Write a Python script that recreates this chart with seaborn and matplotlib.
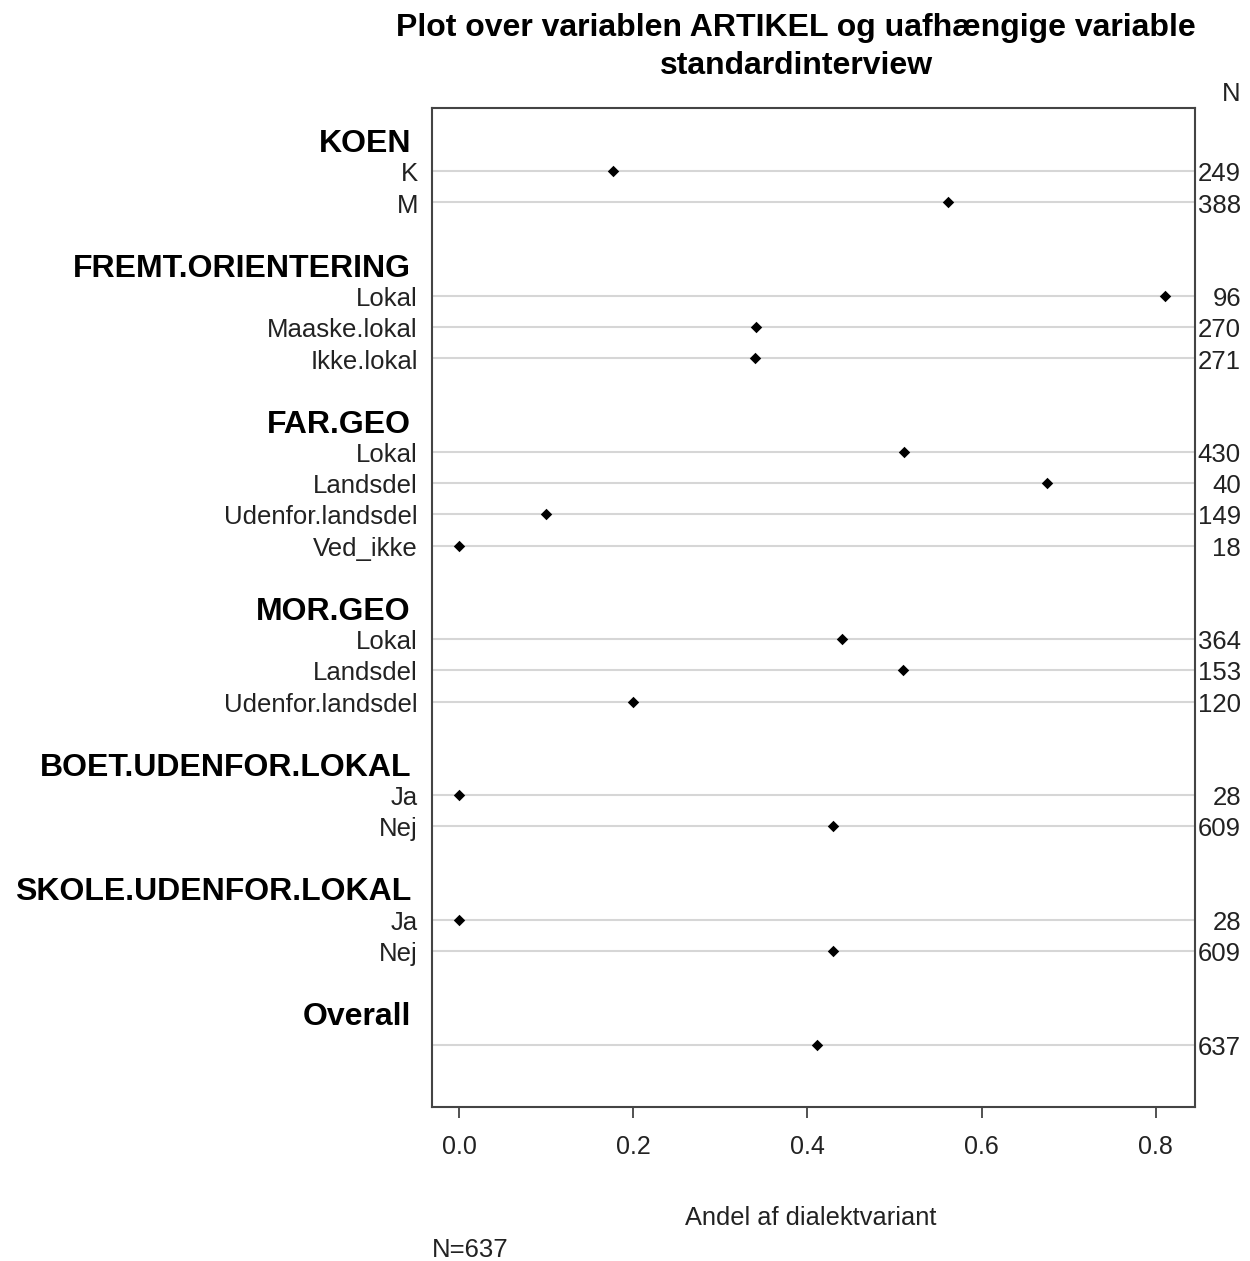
import matplotlib
matplotlib.use("Agg")
import matplotlib.pyplot as plt
import seaborn as sns
import pandas as pd
import numpy as np

sns.set_theme(style="white")
plt.rcParams['font.family'] = ['Liberation Sans', 'DejaVu Sans']

groups = ["KOEN", "FREMT.ORIENTERING", "FAR.GEO", "MOR.GEO",
          "BOET.UDENFOR.LOKAL", "SKOLE.UDENFOR.LOKAL", "Overall"]
levels = [["K", "M"],
          ["Lokal", "Maaske.lokal", "Ikke.lokal"],
          ["Lokal", "Landsdel", "Udenfor.landsdel", "Ved_ikke"],
          ["Lokal", "Landsdel", "Udenfor.landsdel"],
          ["Ja", "Nej"],
          ["Ja", "Nej"],
          [""]]
shares = [[0.177, 0.561],
          [0.810, 0.341, 0.340],
          [0.511, 0.675, 0.100, 0.0],
          [0.440, 0.510, 0.200],
          [0.0, 0.429],
          [0.0, 0.429],
          [0.411]]
counts = [[249, 388],
          [96, 270, 271],
          [430, 40, 149, 18],
          [364, 153, 120],
          [28, 609],
          [28, 609],
          [637]]

title = "Plot over variablen ARTIKEL og uafhængige variable\nstandardinterview"
xlabel = "Andel af dialektvariant"
n_note = "N=637"
xticks = [0.0, 0.2, 0.4, 0.6, 0.8]

rows = []
headers = []
pos = 0
for g, lv, sh, ct in zip(groups, levels, shares, counts):
    headers.append((g, pos))
    pos += 1
    for l, s, c in zip(lv, sh, ct):
        rows.append(dict(group=g, level=l, share=s, n=c, y=pos))
        pos += 1
    pos += 1
df = pd.DataFrame(rows)

fig = plt.figure(figsize=(12.5, 12.61), dpi=100)
ax = fig.add_axes([0.3456, 0.1221, 0.956 - 0.3456, 0.9144 - 0.1221])

for y in df["y"]:
    ax.axhline(y, color="#d6d6d6", lw=1.5, zorder=1)

sns.scatterplot(data=df, x="share", y="y", ax=ax, marker="D", s=34,
                color="black", edgecolor="black", linewidth=0, zorder=3,
                legend=False)

ax.set_xlim(-0.031, 0.845)
ax.set_ylim(31.0, -1.03)
ax.set_xticks(xticks)
ax.set_xticklabels([f"{t:.1f}" for t in xticks])
ax.tick_params(axis="x", direction="out", length=8, width=1.2, color="#333333",
               pad=12, bottom=True, labelsize=18, labelcolor="#222222")
ax.set_yticks([])
ax.set_xlabel("")
ax.set_ylabel("")
for sp in ax.spines.values():
    sp.set_color("#444444")
    sp.set_linewidth(1.5)

trans_left = matplotlib.transforms.blended_transform_factory(fig.transFigure, ax.transData)
for _, r in df.iterrows():
    ax.text(418 / 1250, r["y"] + 0.1, r["level"], transform=trans_left, ha="right",
            va="center", fontsize=18.5, color="#222222")
    ax.text(1241 / 1250, r["y"] + 0.1, str(r["n"]), transform=trans_left, ha="right",
            va="center", fontsize=18.5, color="#222222")
for g, y in headers:
    ax.text(411 / 1250, y + 0.12, g, transform=trans_left, ha="right", va="center",
            fontsize=23, fontweight="bold", color="black")

fig.text(1241 / 1250, 1 - 94 / 1261, "N", ha="right", va="center",
         fontsize=18.5, color="#222222")
fig.text(796 / 1250, 1 - 47 / 1261, title, ha="center", va="center",
         fontsize=23, fontweight="bold", color="black", linespacing=1.35)
fig.text(811 / 1250, 1 - 1218 / 1261, xlabel, ha="center", va="center",
         fontsize=18.3, color="#222222")
fig.text(432 / 1250, 1 - 1250 / 1261, n_note, ha="left", va="center",
         fontsize=18.5, color="#222222")

fig.savefig("out.png", dpi=100, facecolor="white")
